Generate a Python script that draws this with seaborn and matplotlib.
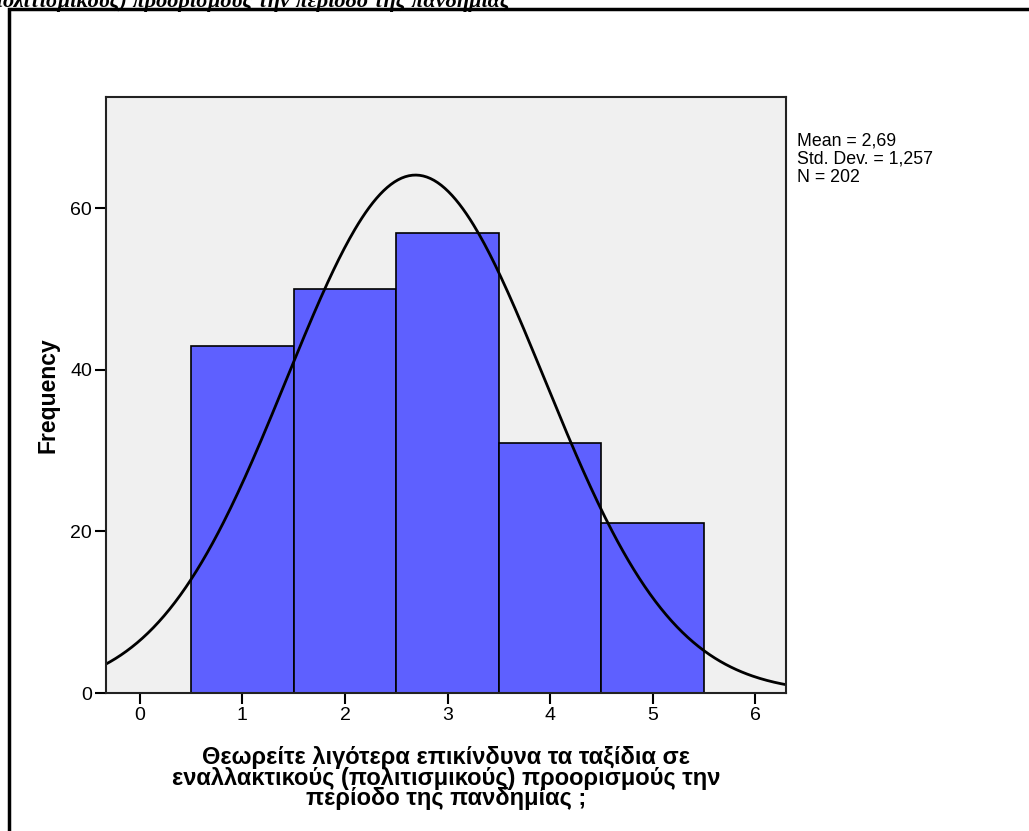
import numpy as np
import pandas as pd
import matplotlib.pyplot as plt
import matplotlib.patches as mpatches
import seaborn as sns

# Απαντήσεις 1-5 και συχνότητες (διαβασμένες από το γράφημα)
answers = [1, 2, 3, 4, 5]
counts = [43, 50, 57, 31, 21]
x_ticks = [0, 1, 2, 3, 4, 5, 6]
y_ticks = [0, 20, 40, 60]

x_label = ("Θεωρείτε λιγότερα επικίνδυνα τα ταξίδια σε\n"
           "εναλλακτικούς (πολιτισμικούς) προορισμούς την\n"
           "περίοδο της πανδημίας ;")
top_text = "εναλλακτικούς (πολιτισμικούς) προορισμούς την περίοδο της πανδημίας"

df = pd.DataFrame({"answer": np.repeat(answers, counts)})
n = len(df)
mean = df["answer"].mean()
sd = df["answer"].std()

sns.set_theme(style="white")
plt.rcParams['font.family'] = ['Liberation Sans', 'DejaVu Sans']
plt.rcParams['text.color'] = 'black'
plt.rcParams['axes.labelcolor'] = 'black'
plt.rcParams['xtick.color'] = 'black'
plt.rcParams['ytick.color'] = 'black'

fig = plt.figure(figsize=(10.29, 8.31), dpi=100)
ax = fig.add_axes([106 / 1029, 1 - 693 / 831, 680 / 1029, 596 / 831])
ax.set_facecolor("#f0f0f0")

sns.histplot(data=df, x="answer", discrete=True, ax=ax, color="#5e60ff",
             alpha=1, edgecolor="black", linewidth=1.2)

# normal curve scaled to the counts
xs = np.linspace(-0.5, 6.5, 400)
ys = n * 1.0 / (sd * np.sqrt(2 * np.pi)) * np.exp(-0.5 * ((xs - mean) / sd) ** 2)
ax.plot(xs, ys, color="black", linewidth=2)

ax.set_xlim(-0.33, 6.3)
ax.set_ylim(0, 73.8)
ax.set_xticks(x_ticks)
ax.set_yticks(y_ticks)
ax.tick_params(axis="both", direction="out", length=8, width=1.5, color="black",
               labelsize=14, bottom=True, left=True, pad=2)
for sp in ax.spines.values():
    sp.set_color("#222222")
    sp.set_linewidth(1.5)

ax.set_ylabel("Frequency", fontsize=16.5, fontweight="bold", labelpad=8)
ax.set_xlabel(x_label, fontsize=17, fontweight="bold", labelpad=16,
              linespacing=0.87)

fig.text(797 / 1029, 1 - 132 / 831,
         f"Mean = {mean:.2f}\nStd. Dev. = {sd:.3f}\nN = {n}".replace(".", ",")
         .replace("Std, Dev,", "Std. Dev."),
         fontsize=12.8, va="top", ha="left", linespacing=1.1)

# clipped title text at the top and frame
fig.text(510 / 1029, 1 - 1 / 831, top_text, fontsize=16, fontweight="bold",
         style="italic", family=['Liberation Serif', 'DejaVu Serif'],
         ha="right", va="center")
fig.add_artist(mpatches.Rectangle((9 / 1029, -0.1), 1.2, 1 - 9 / 831 + 0.1,
                                  transform=fig.transFigure, fill=False,
                                  edgecolor="black", linewidth=2.5))

fig.savefig("out.png", dpi=100)
